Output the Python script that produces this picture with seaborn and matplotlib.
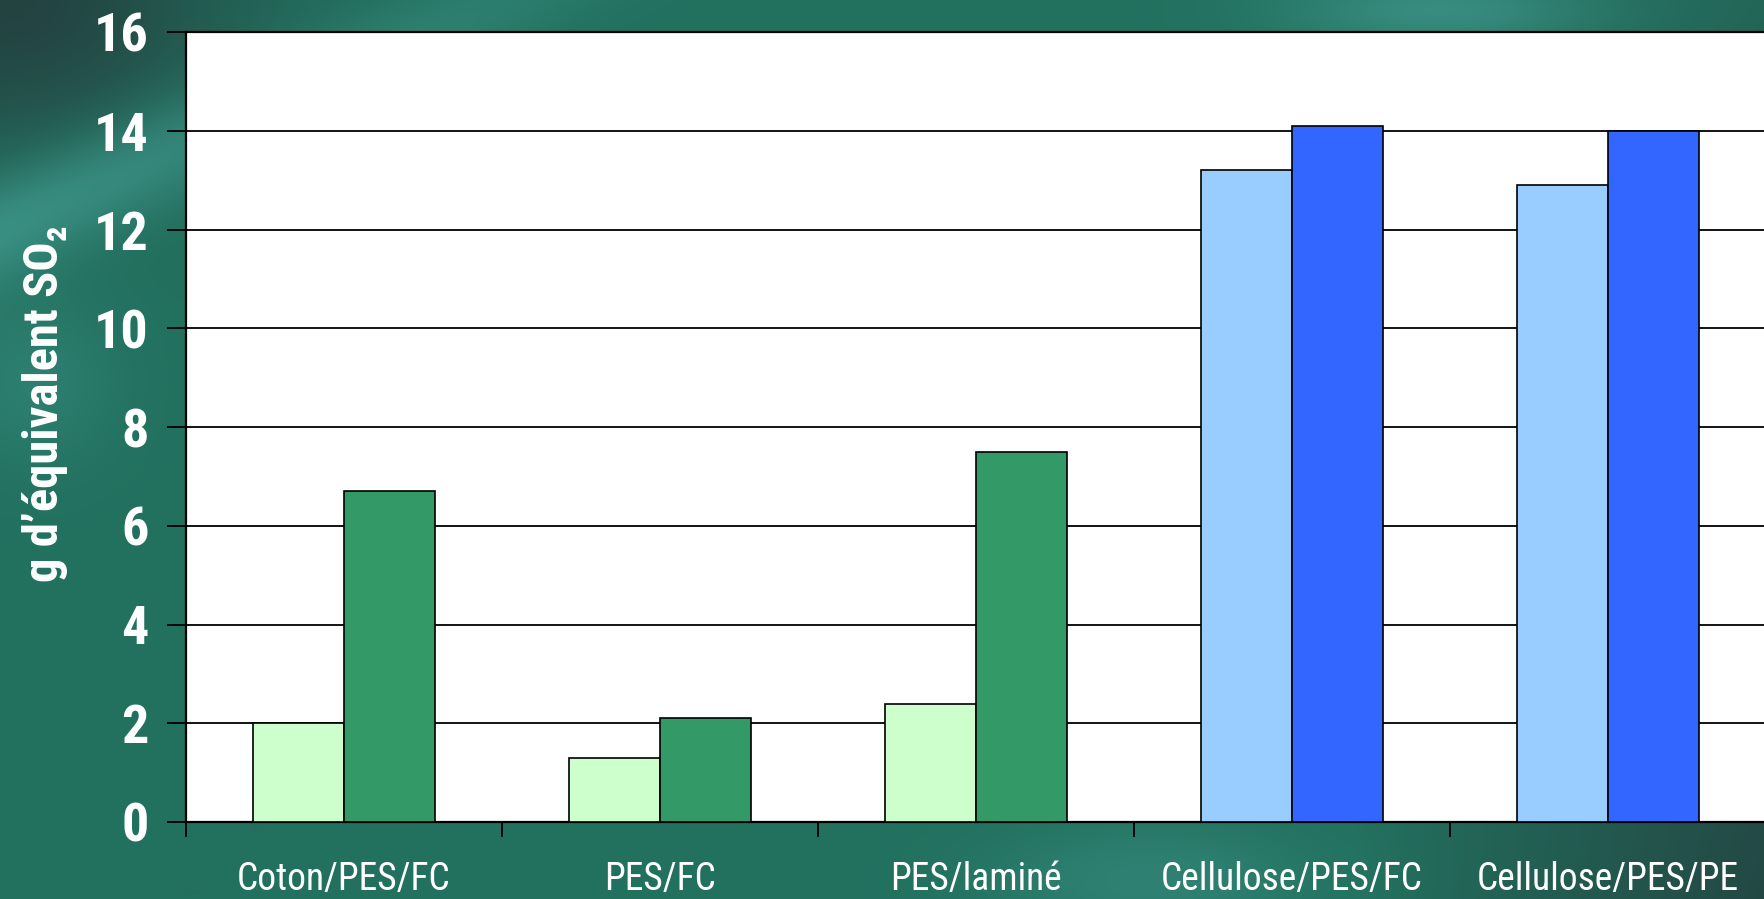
import numpy as np
import pandas as pd
import matplotlib
matplotlib.use("Agg")
import matplotlib.pyplot as plt
from matplotlib.ticker import FixedLocator
from matplotlib import font_manager
import seaborn as sns

categories = ["Coton/PES/FC", "PES/FC", "PES/laminé", "Cellulose/PES/FC", "Cellulose/PES/PE"]
series_a = [2.0, 1.3, 2.4, 13.2, 12.9]
series_b = [6.7, 2.1, 7.5, 14.1, 14.0]
yticks = [0, 2, 4, 6, 8, 10, 12, 14, 16]
ylabel = "g d’équivalent SO₂"

light_colors = ["#CCFFCC", "#CCFFCC", "#CCFFCC", "#99CCFF", "#99CCFF"]
dark_colors = ["#339966", "#339966", "#339966", "#3366FF", "#3366FF"]

df = pd.DataFrame({
    "cat": categories * 2,
    "val": series_a + series_b,
    "ser": ["a"] * len(categories) + ["b"] * len(categories),
})

sns.set_theme(style="white")
installed = {f.name for f in font_manager.fontManager.ttflist}
narrow = [n for n in ["Liberation Sans Narrow", "Roboto Condensed", "Arial Narrow",
                      "Open Sans Condensed", "DejaVu Sans Condensed"] if n in installed]
FAM = narrow + ["Liberation Sans", "DejaVu Sans"]
plt.rcParams["font.family"] = FAM
is_narrow = len(narrow) > 0

W, H = 1764, 899
fig = plt.figure(figsize=(W / 100, H / 100), dpi=100)

# background gradient (decorative)
yy, xx = np.mgrid[0:H, 0:W].astype(float)
base = np.array([34, 112, 94], float)
dark = np.array([36, 62, 62], float)
light = np.array([60, 148, 136], float)
img = np.ones((H, W, 3)) * base
d1 = np.exp(-(((xx - 0) / 230) ** 2 + ((yy - 0) / 150) ** 2))
d2 = np.clip((xx - 1350) / 414, 0, 1) * np.clip((yy + 300) / 1200, 0, 1)
dist = (yy - (230 - 0.45 * xx)) / 55
l1 = np.exp(-dist ** 2) * np.clip(1 - xx / 900, 0, 1)
l2 = np.exp(-(((xx - 1440) / 160) ** 2 + ((yy - 10) / 40) ** 2))
l3 = np.exp(-(((xx - 1150) / 160) ** 2 + ((yy - 880) / 60) ** 2)) * 0.5
l4 = np.exp(-(((xx - 30) / 90) ** 2 + ((yy - 380) / 90) ** 2)) * 0.4
wd = np.clip(d1 * 0.9 + d2 * 0.8, 0, 1)[..., None]
wl = np.clip(l1 * 0.85 + l2 * 0.8 + l3 + l4, 0, 1)[..., None]
img = img * (1 - wd) + dark * wd
img = img * (1 - wl) + light * wl
bg = fig.add_axes([0, 0, 1, 1], zorder=-5)
bg.imshow(img.astype(np.uint8), aspect="auto", extent=[0, 1, 0, 1])
bg.set_axis_off()

ax = fig.add_axes([186 / W, (H - 822) / H, 1580 / W, 790 / H])
ax.set_facecolor("white")

sns.barplot(data=df, x="cat", y="val", hue="ser", order=categories,
            hue_order=["a", "b"], width=0.573, palette=["#CCFFCC", "#339966"],
            edgecolor="black", linewidth=1.2, saturation=1, legend=False,
            ax=ax, zorder=3)

for p in ax.patches:
    cx = p.get_x() + p.get_width() / 2
    i = int(round(cx))
    left_bar = cx < i
    p.set_facecolor(light_colors[i] if left_bar else dark_colors[i])

ax.set_xlim(-0.5, len(categories) - 0.5)
ax.set_ylim(0, 16)
ax.set_yticks(yticks)
ax.set_yticklabels([str(t) for t in yticks])
ax.yaxis.grid(True, color="black", linewidth=1.3, zorder=0)
ax.set_axisbelow(True)

ax.set_xticks(range(len(categories)))
ax.set_xticklabels(categories)
ax.xaxis.set_minor_locator(FixedLocator(np.arange(-0.5, len(categories), 1.0)))
ax.tick_params(axis="x", which="major", length=0, pad=28,
               labelsize=(27 if is_narrow else 24), labelcolor="white")
ax.tick_params(axis="x", which="minor", length=11, width=1.3, color="black",
               direction="out", bottom=True)
ax.tick_params(axis="y", length=14, width=1.3, color="black", direction="out",
               left=True, labelsize=(39 if is_narrow else 35), labelcolor="white",
               pad=(13 if is_narrow else 12))
for lab in ax.get_yticklabels():
    lab.set_fontweight("bold")

for s in ["left", "bottom", "top"]:
    ax.spines[s].set_visible(True)
    ax.spines[s].set_color("black")
    ax.spines[s].set_linewidth(1.6)
ax.spines["right"].set_visible(False)

ax.set_xlabel("")
ax.set_ylabel("")
fig.text(45 / W, 1 - 404 / H, ylabel, rotation=90, ha="center", va="center",
         color="white", fontsize=(35 if is_narrow else 30), fontweight="bold",
         family=FAM)

fig.savefig("out.png", dpi=100)
